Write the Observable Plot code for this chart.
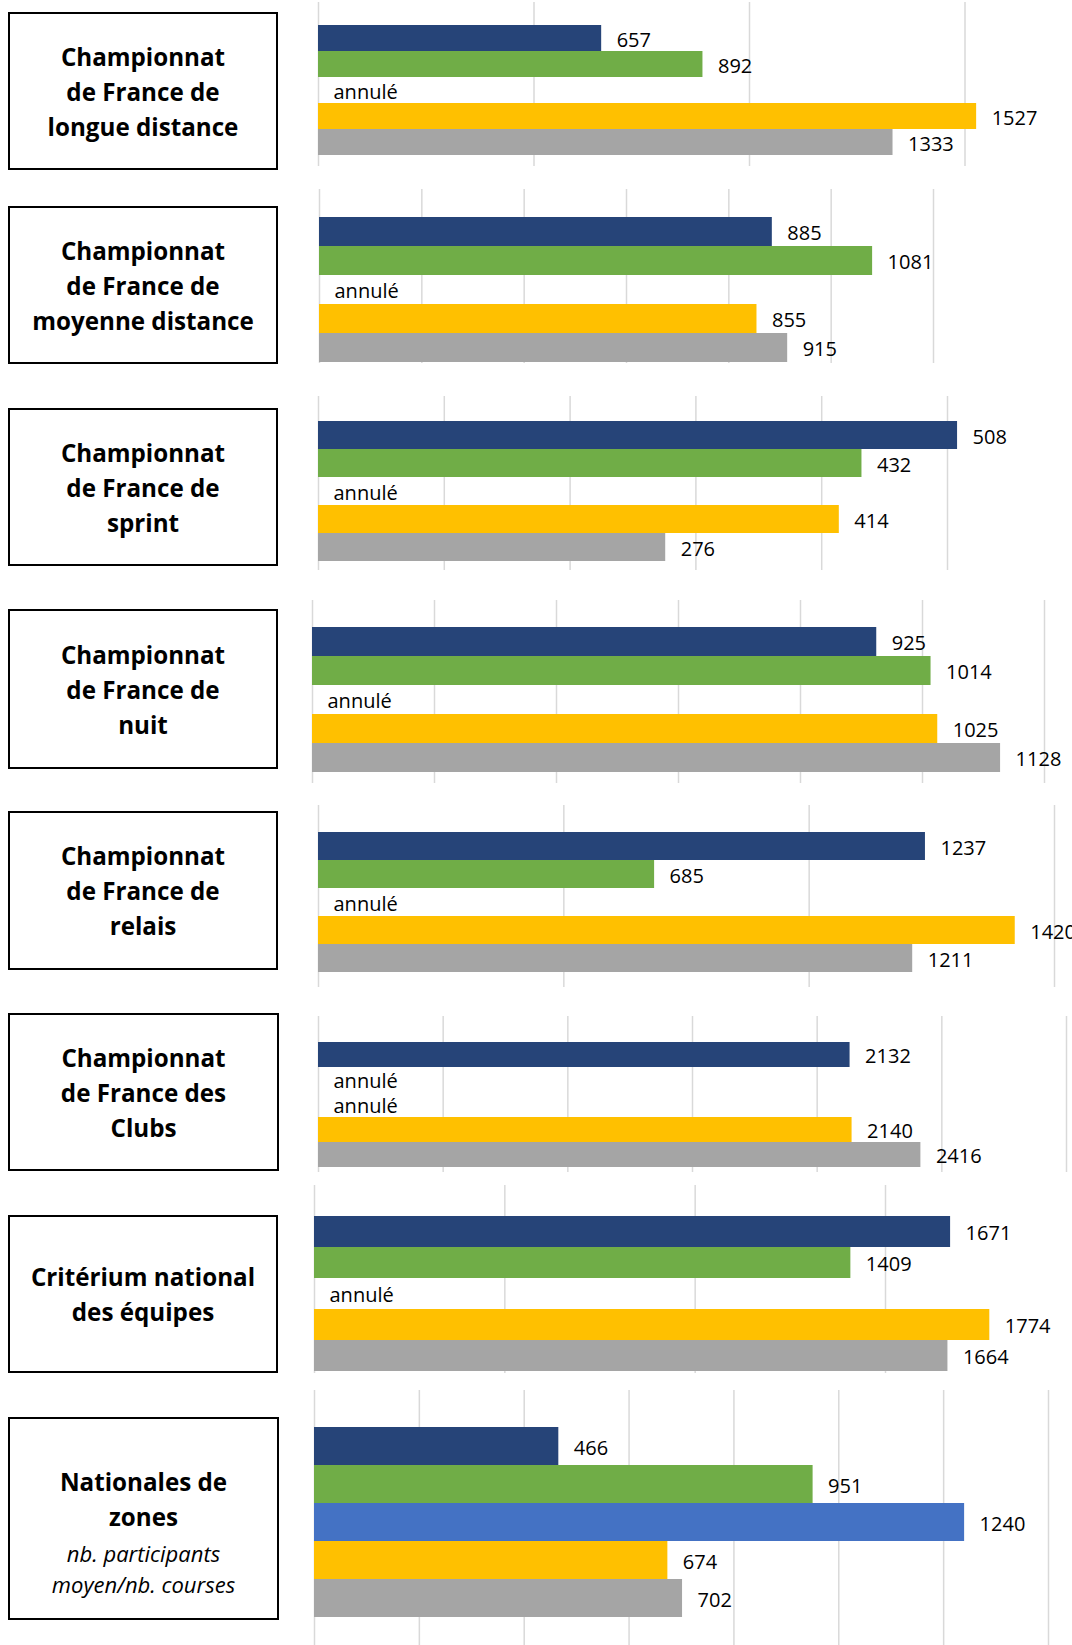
<!DOCTYPE html>
<html>
<head>
<meta charset="utf-8">
<script src="https://cdn.jsdelivr.net/npm/d3@7"></script>
<script src="https://cdn.jsdelivr.net/npm/@observablehq/plot@0.6"></script>
<style>
  html, body { margin: 0; padding: 0; background: #fff; overflow: hidden; }
  #root { position: relative; width: 1072px; height: 1645px; overflow: hidden; background: #fff; }
  .box { position: absolute; box-sizing: border-box; border: 2px solid #000; background: #fff;
         display: flex; flex-direction: column; justify-content: center; align-items: center;
         font-family: "Open Sans", sans-serif; color: #000; text-align: center; }
  .b { font-weight: 700; font-size: 24.2px; line-height: 35px; white-space: nowrap; }
  .i { font-style: italic; font-size: 22px; line-height: 31px; white-space: nowrap; }
  .i.first { margin-top: 4px; }
  .panel { position: absolute; left: 0; }
</style>
</head>
<body>
<div id="root"></div>
<script>
// Series (one colour per position in each panel)
const series = ["2018", "2019", "2020", "2021", "2022"];
const seriesColors = ["#264478", "#70AD47", "#4472C4", "#FFC000", "#A5A5A5"];

// Panel titles
const titles = [
  ["Championnat", "de France de", "longue distance"],
  ["Championnat", "de France de", "moyenne distance"],
  ["Championnat", "de France de", "sprint"],
  ["Championnat", "de France de", "nuit"],
  ["Championnat", "de France de", "relais"],
  ["Championnat", "de France des", "Clubs"],
  ["Critérium national", "des équipes"],
  ["Nationales de", "zones"]
];
const subtitles = [[], [], [], [], [], [], [], ["nb. participants", "moyen/nb. courses"]];

// Values (null = annulé)
const longue   = [657, 892, null, 1527, 1333];
const moyenne  = [885, 1081, null, 855, 915];
const sprint   = [508, 432, null, 414, 276];
const nuit     = [925, 1014, null, 1025, 1128];
const relais   = [1237, 685, null, 1420, 1211];
const clubs    = [2132, null, null, 2140, 2416];
const criterium = [1671, 1409, null, 1774, 1664];
const zones    = [466, 951, 1240, 674, 702];
const values = [longue, moyenne, sprint, nuit, relais, clubs, criterium, zones];

// Axis ticks (gridlines) per panel
const ticks = [
  [0, 500, 1000, 1500],
  [0, 200, 400, 600, 800, 1000, 1200],
  [0, 100, 200, 300, 400, 500],
  [0, 200, 400, 600, 800, 1000, 1200],
  [0, 500, 1000, 1500],
  [0, 500, 1000, 1500, 2000, 2500, 3000],
  [0, 500, 1000, 1500],
  [0, 200, 400, 600, 800, 1000, 1200, 1400]
];
const missingLabel = "annulé";

// Layout (pixels)
const layout = [
  {box: [8, 12, 278, 170],   grid: [2, 166],     bars: [24, 155],     x0: 318, xMax: 964.5},
  {box: [8, 206, 278, 364],  grid: [189, 363],   bars: [216, 363],    x0: 319, xMax: 933},
  {box: [8, 408, 278, 566],  grid: [396, 570],   bars: [420, 562],    x0: 318, xMax: 947},
  {box: [8, 609, 278, 769],  grid: [600, 783],   bars: [626, 773],    x0: 312, xMax: 1044},
  {box: [8, 811, 278, 970],  grid: [805, 987],   bars: [831, 973],    x0: 318, xMax: 1054},
  {box: [8, 1013, 279, 1171], grid: [1016, 1172], bars: [1040, 1168], x0: 318, xMax: 1066},
  {box: [8, 1215, 278, 1373], grid: [1185, 1373], bars: [1214, 1372], x0: 314, xMax: 885},
  {box: [8, 1417, 279, 1620], grid: [1390, 1645], bars: [1425, 1618], x0: 314, xMax: 1048}
];

const root = document.getElementById("root");

titles.forEach((lines, p) => {
  const L = layout[p];
  // label box
  const box = document.createElement("div");
  box.className = "box";
  box.style.left = L.box[0] + "px";
  box.style.top = L.box[1] + "px";
  box.style.width = (L.box[2] - L.box[0]) + "px";
  box.style.height = (L.box[3] - L.box[1]) + "px";
  if (subtitles[p].length) box.style.paddingTop = "26px";
  lines.forEach(t => { const d = document.createElement("div"); d.className = "b"; d.textContent = t; box.appendChild(d); });
  subtitles[p].forEach((t, k) => { const d = document.createElement("div"); d.className = k === 0 ? "i first" : "i"; d.textContent = t; box.appendChild(d); });
  root.appendChild(box);

  // chart
  const data = series.map((s, i) => ({series: s, value: values[p][i], color: seriesColors[i]}));
  const h = L.grid[1] - L.grid[0];
  const chart = Plot.plot({
    width: 1072,
    height: h,
    marginLeft: L.x0,
    marginRight: 1072 - L.xMax,
    marginTop: 0,
    marginBottom: 0,
    style: {fontFamily: "Open Sans, sans-serif", background: "transparent", overflow: "hidden"},
    x: {domain: [0, ticks[p][ticks[p].length - 1]], axis: null},
    y: {domain: series, range: [L.bars[0] - L.grid[0], L.bars[1] - L.grid[0]], padding: 0, axis: null},
    marks: [
      Plot.ruleX(ticks[p], {stroke: "#d9d9d9", strokeWidth: 1.5}),
      Plot.barX(data.filter(d => d.value != null), {x: "value", y: "series", fill: "color"}),
      Plot.text(data, {
        x: d => d.value ?? 0,
        y: "series",
        text: d => d.value == null ? missingLabel : String(d.value),
        textAnchor: "start",
        dx: 15,
        dy: 2,
        fontSize: 20,
        fill: "#000"
      })
    ]
  });
  const wrap = document.createElement("div");
  wrap.className = "panel";
  wrap.style.top = L.grid[0] + "px";
  wrap.appendChild(chart);
  root.appendChild(wrap);
});
</script>
</body>
</html>
